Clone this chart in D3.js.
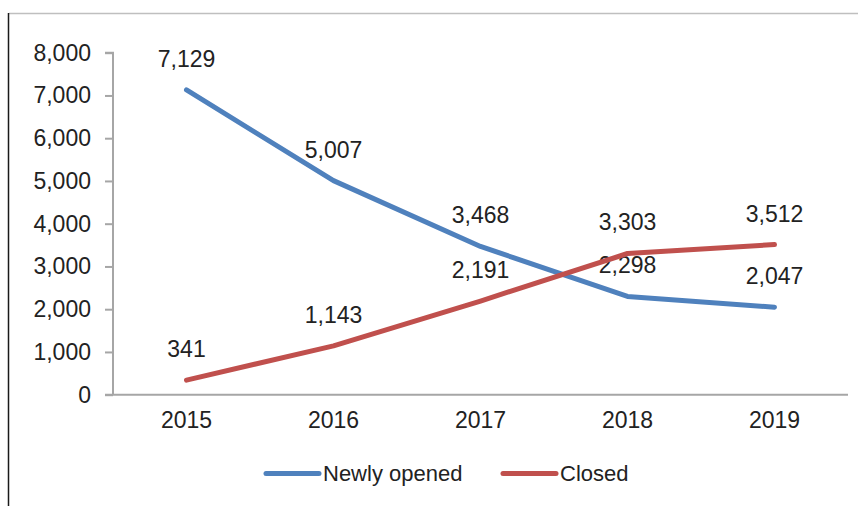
<!DOCTYPE html>
<html>
<head>
<meta charset="utf-8">
<script src="https://cdn.jsdelivr.net/npm/d3@7"></script>
<style>
  html, body { margin: 0; padding: 0; background: #fff; }
  svg { display: block; }
  text { font-family: "Liberation Sans", Arial, sans-serif; fill: #222; }
</style>
</head>
<body>
<svg id="chart" width="858" height="506"></svg>
<script>
const years = ["2015", "2016", "2017", "2018", "2019"];
const newlyOpened = [7129, 5007, 3468, 2298, 2047];
const closed = [341, 1143, 2191, 3303, 3512];
const yTicks = [0, 1000, 2000, 3000, 4000, 5000, 6000, 7000, 8000];
const seriesNames = ["Newly opened", "Closed"];
const seriesColors = ["#4F81BD", "#C0504D"];

const svg = d3.select("#chart");
const W = 858, H = 506;
const numSize = 23;
const legSize = 22;

// frame
svg.append("line").attr("x1", 9).attr("x2", W).attr("y1", 13.5).attr("y2", 13.5)
  .attr("stroke", "#bfbfbf").attr("stroke-width", 1.5);
svg.append("line").attr("x1", 8.5).attr("x2", 8.5).attr("y1", 13).attr("y2", H)
  .attr("stroke", "#1a1a1a").attr("stroke-width", 1.5);

const x = d3.scaleBand().domain(years).range([113, 848]);
const y = d3.scaleLinear().domain([0, 8000]).range([394.7, 52.7]);

// y axis
const yAxis = d3.axisLeft(y).tickValues(yTicks).tickSize(8).tickPadding(14)
  .tickFormat(d3.format(","));
const gy = svg.append("g").attr("transform", "translate(113,0)").call(yAxis);
gy.select(".domain").attr("stroke", "#a6a6a6").attr("stroke-width", 2)
  .attr("d", `M-8,${y(8000)}H0V${y(0)}`);
gy.selectAll(".tick line").attr("stroke", "#a6a6a6").attr("stroke-width", 2);
gy.selectAll(".tick text").attr("font-size", numSize).attr("fill", "#222")
  .attr("font-family", "Liberation Sans, Arial, sans-serif");

// x axis
const xAxis = d3.axisBottom(x).tickSize(0).tickPadding(17);
const gx = svg.append("g").attr("transform", `translate(0,${y(0)})`).call(xAxis);
gx.select(".domain").attr("stroke", "#a6a6a6").attr("stroke-width", 2)
  .attr("d", `M105,0H848`);
gx.selectAll(".tick text").attr("font-size", numSize).attr("fill", "#222")
  .attr("font-family", "Liberation Sans, Arial, sans-serif");

// lines
const line = d3.line().x((d, i) => x(years[i]) + x.bandwidth() / 2).y(d => y(d));
[newlyOpened, closed].forEach((vals, si) => {
  svg.append("path").datum(vals).attr("d", line)
    .attr("fill", "none").attr("stroke", seriesColors[si]).attr("stroke-width", 5)
    .attr("stroke-linecap", "round").attr("stroke-linejoin", "round");
  svg.append("g").selectAll("text").data(vals).join("text")
    .attr("x", (d, i) => x(years[i]) + x.bandwidth() / 2)
    .attr("y", d => y(d) - 23)
    .attr("text-anchor", "middle")
    .attr("font-size", numSize)
    .text(d => d3.format(",")(d));
});

// legend
const legend = [
  { lx1: 266, lx2: 319, tx: 323 },
  { lx1: 503, lx2: 556, tx: 560 }
];
legend.forEach((p, i) => {
  svg.append("line").attr("x1", p.lx1).attr("x2", p.lx2).attr("y1", 473.5).attr("y2", 473.5)
    .attr("stroke", seriesColors[i]).attr("stroke-width", 5).attr("stroke-linecap", "round");
  svg.append("text").attr("x", p.tx).attr("y", 481).attr("font-size", legSize)
    .text(seriesNames[i]);
});
</script>
</body>
</html>
